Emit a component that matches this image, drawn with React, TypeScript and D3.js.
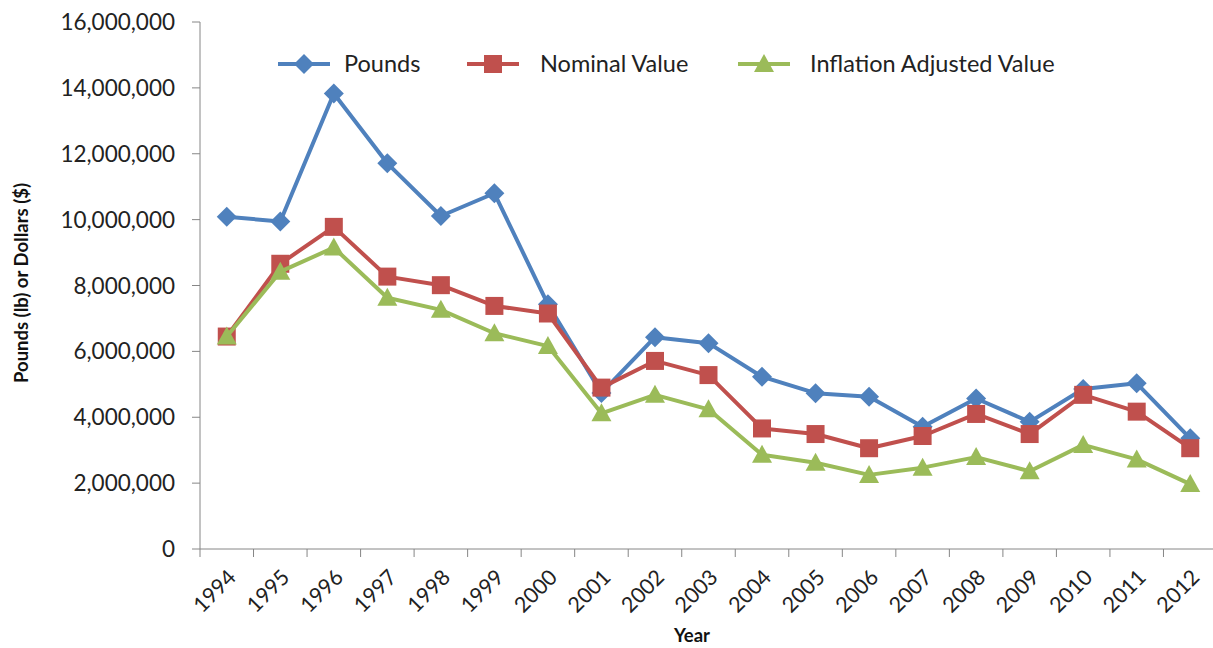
import React from 'react';
import * as d3 from 'd3';

const years = ['1994', '1995', '1996', '1997', '1998', '1999', '2000', '2001', '2002', '2003',
  '2004', '2005', '2006', '2007', '2008', '2009', '2010', '2011', '2012'];

const pounds = [10090000, 9940000, 13830000, 11710000, 10110000, 10800000, 7430000, 4740000,
  6430000, 6250000, 5230000, 4730000, 4620000, 3710000, 4570000, 3860000, 4860000, 5030000, 3360000];

const nominal = [6450000, 8660000, 9780000, 8270000, 8010000, 7380000, 7150000, 4900000,
  5710000, 5280000, 3660000, 3490000, 3060000, 3430000, 4100000, 3490000, 4680000, 4170000, 3060000];

const inflation = [6450000, 8420000, 9150000, 7630000, 7260000, 6550000, 6160000, 4120000,
  4680000, 4240000, 2860000, 2620000, 2250000, 2470000, 2790000, 2360000, 3160000, 2720000, 1970000];

const yTicks = [0, 2000000, 4000000, 6000000, 8000000, 10000000, 12000000, 14000000, 16000000];

const seriesNames = ['Pounds', 'Nominal Value', 'Inflation Adjusted Value'];
const seriesColors = ['#4F81BD', '#C0504D', '#9BBB59'];

const W = 1213;
const H = 648;
const font = 'Lato, "Liberation Sans", sans-serif';

// marker shapes drawn around (0,0)
const markerPath = (i: number) => {
  if (i === 0) return 'M0,-10L10,0L0,10L-10,0Z';
  if (i === 1) return 'M-9,-9H9V9H-9Z';
  return 'M0,-10L10,8L-10,8Z';
};

export default function App() {
  const x = d3.scaleBand().domain(years).range([200, 1217]);
  const y = d3.scaleLinear().domain([0, 16000000]).range([549, 22]);
  const fmt = d3.format(',');
  const cx = (yr: string) => (x(yr) as number) + x.bandwidth() / 2;

  const series = [pounds, nominal, inflation];
  const line = d3.line<number>()
    .x((_, i) => cx(years[i]))
    .y(d => y(d));

  // legend layout: line start and text start
  const legendLineX = [278, 467, 738];
  const legendTextX = [344, 540, 810];

  return (
    <div style={{ position: 'absolute', left: 0, top: 0 }}>
      <svg width={W} height={H} style={{ display: 'block', background: '#fff' }} fontFamily={font}>
        {/* y axis */}
        <line x1={200} x2={200} y1={22} y2={549} stroke="#868686" strokeWidth={1} />
        {yTicks.map(t => (
          <g key={t}>
            <line x1={192} x2={200} y1={y(t)} y2={y(t)} stroke="#868686" />
            <text x={175} y={y(t)} dy="0.36em" textAnchor="end" fontSize={22.5} fill="#222">{fmt(t)}</text>
          </g>
        ))}
        {/* x axis */}
        <line x1={200} x2={1217} y1={549} y2={549} stroke="#868686" />
        {years.map(yr => (
          <line key={'t' + yr} x1={x(yr)} x2={x(yr)} y1={549} y2={557} stroke="#868686" />
        ))}
        {years.map(yr => (
          <text key={'l' + yr} transform={`translate(${cx(yr)},${568}) rotate(-45)`}
            textAnchor="end" dy="0.7em" fontSize={21.5} fill="#222">{yr}</text>
        ))}

        {/* series */}
        {series.map((s, si) => (
          <g key={si}>
            <path d={line(s) || ''} fill="none" stroke={seriesColors[si]} strokeWidth={4} strokeLinejoin="round" />
            {s.map((v, i) => (
              <path key={i} d={markerPath(si)} transform={`translate(${cx(years[i])},${y(v)})`} fill={seriesColors[si]} />
            ))}
          </g>
        ))}

        {/* legend */}
        {seriesNames.map((n, i) => (
          <g key={n}>
            <line x1={legendLineX[i]} x2={legendLineX[i] + 52} y1={64} y2={64} stroke={seriesColors[i]} strokeWidth={4} />
            <path d={markerPath(i)} transform={`translate(${legendLineX[i] + 26},64)`} fill={seriesColors[i]} />
            <text x={legendTextX[i]} y={64} dy="0.35em" fontSize={23.5} fill="#222">{n}</text>
          </g>
        ))}

        {/* axis titles */}
        <text transform="translate(22,283) rotate(-90)" textAnchor="middle" dy="0.35em" fontSize={18.5} fontWeight="bold" fill="#111">Pounds (lb) or Dollars ($)</text>
        <text x={692} y={636} textAnchor="middle" dy="0.35em" fontSize={18.5} fontWeight="bold" fill="#111">Year</text>
      </svg>
    </div>
  );
}
